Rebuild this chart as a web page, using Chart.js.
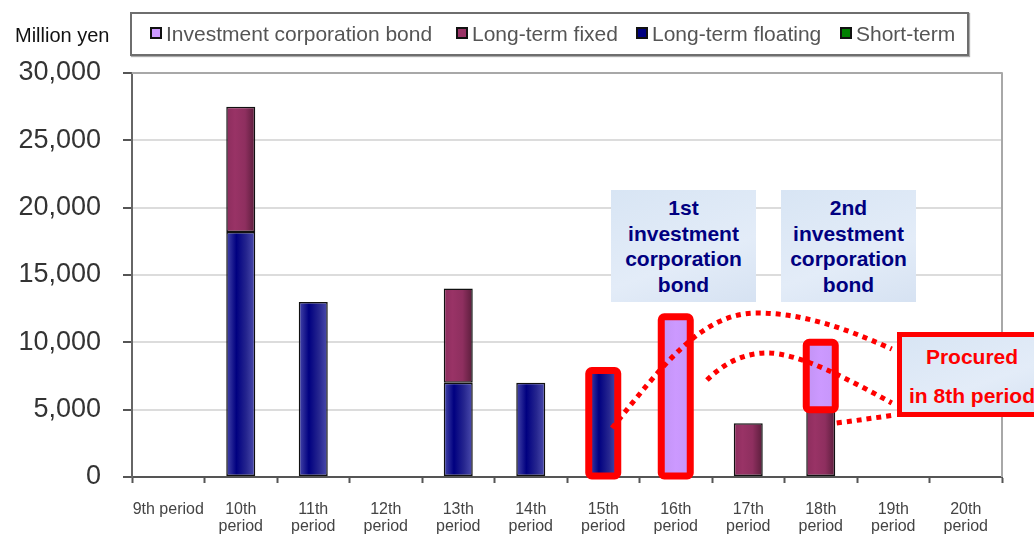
<!DOCTYPE html>
<html>
<head>
<meta charset="utf-8">
<script src="https://cdn.jsdelivr.net/npm/chart.js@4/dist/chart.umd.min.js"></script>
<style>
  body { margin: 0; background: #fff; overflow: hidden; }
  #wrap { position: relative; width: 1034px; height: 534px; overflow: hidden; font-family: Arial, "Liberation Sans", sans-serif; }
  #unit { position: absolute; left: 15px; top: 24px; font-size: 20px; color: #111; }
  #legend { position: absolute; left: 130px; top: 12px; width: 835px; height: 40px; border: 2px solid #6e6e6e; box-shadow: 1px 1px 1px #aaa; }
  .item { position: absolute; top: 8px; font-size: 21px; color: #555; white-space: nowrap; line-height: 24px; }
  .item i { display: inline-block; width: 8px; height: 8px; border: 2px solid #111; margin-right: 4px; vertical-align: 2px; }
  .note { position: absolute; background: linear-gradient(160deg, #d8e5f4, #e3ecf8 60%, #d6e2f2); color: #000080; font-weight: bold; font-size: 21px; text-align: center; line-height: 25.5px; box-sizing: border-box; padding-top: 5px; }
  #procured { position: absolute; left: 897px; top: 332px; width: 150px; height: 85px; border: 5px solid #ff0000; box-sizing: border-box; background: linear-gradient(160deg, #d8e5f4, #e3ecf8 60%, #d6e2f2); color: #ff0000; font-weight: bold; font-size: 21px; line-height: 39px; text-align: center; white-space: nowrap; }
</style>
</head>
<body>
<div id="wrap">
  <canvas id="myChart" width="1034" height="534"></canvas>
  <div id="unit">Million yen</div>
  <div id="legend"></div>
  <div class="note" style="left:611px; top:190px; width:145px; height:112px;">1st<br>investment<br>corporation<br>bond</div>
  <div class="note" style="left:781px; top:190px; width:135px; height:112px;">2nd<br>investment<br>corporation<br>bond</div>
  <div id="procured">Procured<br>in 8th period</div>
</div>
<script>
// values in million yen
const periods = ["9th period", ["10th", "period"], ["11th", "period"], ["12th", "period"], ["13th", "period"],
  ["14th", "period"], ["15th", "period"], ["16th", "period"], ["17th", "period"], ["18th", "period"],
  ["19th", "period"], ["20th", "period"]];
const shortTerm = [null, null, null, null, null, null, null, null, null, null, null, null];
const longFloating = [null, 18200, 13000, null, 7000, 7000, 7900, null, null, null, null, null];
const longFixed = [null, 9300, null, null, 7000, null, null, null, 4000, 5000, null, null];
const corpBond = [null, null, null, null, null, null, null, 11900, null, 5000, null, null];
const yTicks = [0, 5000, 10000, 15000, 20000, 25000, 30000];

// bars outlined in red: [series, period index]
const highlighted = [["Long-term floating", 6], ["Investment corporation bond", 7], ["Investment corporation bond", 9]];

// dotted callout curves in (category, value) units: start point then bezier triples
const curves = [
  [[6.12, 3640], [6.78, 7950], [7.33, 12180], [8.12, 12180], [8.85, 12180], [9.54, 10550], [9.98, 9500]],
  [[7.43, 7200], [7.68, 8540], [7.96, 9210], [8.26, 9210], [8.71, 9210], [9.40, 7200], [9.98, 5500]],
  [[9.22, 4010], [9.50, 4200], [9.75, 4400], [10.02, 4600]]
];

const legendItems = [
  { label: "Investment corporation bond", color: "#cc99ff", left: 150 },
  { label: "Long-term fixed", color: "#993366", left: 456 },
  { label: "Long-term floating", color: "#000080", left: 636 },
  { label: "Short-term", color: "#008000", left: 840 }
];
const legendEl = document.getElementById("legend");
legendItems.forEach((it) => {
  const d = document.createElement("div");
  d.className = "item";
  d.style.left = (it.left - 132) + "px";
  d.innerHTML = '<i style="background:' + it.color + '"></i>' + it.label;
  legendEl.appendChild(d);
});

// horizontal shading across each bar, like the original cylinders
const shade = (stops) => (ctx) => {
  const chart = ctx.chart;
  const xs = chart.scales.x;
  if (!chart.chartArea || !xs) return stops[0][1];
  const step = xs.getPixelForValue(1) - xs.getPixelForValue(0);
  const cx = xs.getPixelForValue(ctx.dataIndex);
  const w = step * 0.4;
  const g = chart.ctx.createLinearGradient(cx - w / 2, 0, cx + w / 2, 0);
  stops.forEach((s) => g.addColorStop(s[0], s[1]));
  return g;
};

const highlightPlugin = {
  id: "highlight",
  afterDatasetsDraw(chart) {
    const c = chart.ctx;
    c.save();
    c.strokeStyle = "#ff0000";
    c.lineWidth = 7;
    c.lineJoin = "round";
    highlighted.forEach(([name, idx]) => {
      const di = chart.data.datasets.findIndex((d) => d.label === name);
      const el = chart.getDatasetMeta(di).data[idx];
      const left = el.x - el.width / 2;
      c.beginPath();
      c.roundRect(left, el.y, el.width, el.base - el.y, 3);
      c.stroke();
    });

    // dotted curves
    const xs = chart.scales.x, ys = chart.scales.y;
    const step = xs.getPixelForValue(1) - xs.getPixelForValue(0);
    const px = (p) => [xs.getPixelForValue(0) + p[0] * step, ys.getPixelForValue(p[1])];
    c.lineWidth = 5;
    c.setLineDash([5, 5]);
    c.lineCap = "butt";
    curves.forEach((pts) => {
      c.beginPath();
      const s = px(pts[0]);
      c.moveTo(s[0], s[1]);
      for (let i = 1; i + 2 < pts.length + 1; i += 3) {
        const a = px(pts[i]), b = px(pts[i + 1]), e = px(pts[i + 2]);
        c.bezierCurveTo(a[0], a[1], b[0], b[1], e[0], e[1]);
      }
      c.stroke();
    });

    // frame on top and right of the plot
    const ca = chart.chartArea;
    c.setLineDash([]);
    c.strokeStyle = "#a8a8a8";
    c.lineWidth = 2;
    c.beginPath();
    c.moveTo(ca.left, ca.top);
    c.lineTo(ca.right, ca.top);
    c.lineTo(ca.right, ca.bottom);
    c.stroke();
    c.restore();
  }
};

const ctx = document.getElementById("myChart").getContext("2d");
const myChart = new Chart(ctx, {
  type: "bar",
  data: {
    labels: periods,
    datasets: [
      { label: "Short-term", data: shortTerm, backgroundColor: "#008000" },
      {
        label: "Long-term floating",
        data: longFloating,
        backgroundColor: shade([[0, "#4848aa"], [0.35, "#000080"], [0.7, "#26268f"], [1, "#4c4cae"]])
      },
      {
        label: "Long-term fixed",
        data: longFixed,
        backgroundColor: shade([[0, "#8c2d5d"], [0.3, "#993366"], [0.65, "#8e2f5f"], [1, "#5a1d3b"]])
      },
      {
        label: "Investment corporation bond",
        data: corpBond,
        backgroundColor: shade([[0, "#c293f5"], [0.5, "#cc99ff"], [1, "#c696fa"]])
      }
    ]
  },
  options: {
    responsive: false,
    animation: false,
    layout: { padding: { top: 73, right: 32, left: 0, bottom: 0 } },
    datasets: {
      bar: {
        barPercentage: 0.4,
        categoryPercentage: 1,
        borderColor: "#111",
        borderWidth: 1.5,
        borderSkipped: false
      }
    },
    plugins: {
      legend: { display: false },
      tooltip: { enabled: false }
    },
    scales: {
      x: {
        stacked: true,
        border: { color: "#555", width: 2 },
        grid: { drawOnChartArea: false, tickLength: 6, tickColor: "#555", tickWidth: 2 },
        ticks: {
          autoSkip: false,
          maxRotation: 0,
          minRotation: 0,
          padding: 18,
          color: "#444",
          font: { family: "Arial", size: 16, lineHeight: "17px" }
        },
        afterFit(scale) { scale.height = 57; }
      },
      y: {
        stacked: true,
        min: 0,
        max: 30000,
        afterBuildTicks(scale) { scale.ticks = yTicks.map((v) => ({ value: v })); },
        border: { color: "#666", width: 2 },
        grid: { color: "#dcdcdc", lineWidth: 2, tickLength: 9, tickColor: "#555", tickWidth: 2 },
        ticks: {
          padding: 22,
          color: "#333",
          font: { family: "Arial", size: 27 },
          callback: (v) => v.toLocaleString("en-US")
        },
        afterFit(scale) { scale.width = 132; }
      }
    }
  },
  plugins: [highlightPlugin]
});
</script>
</body>
</html>
